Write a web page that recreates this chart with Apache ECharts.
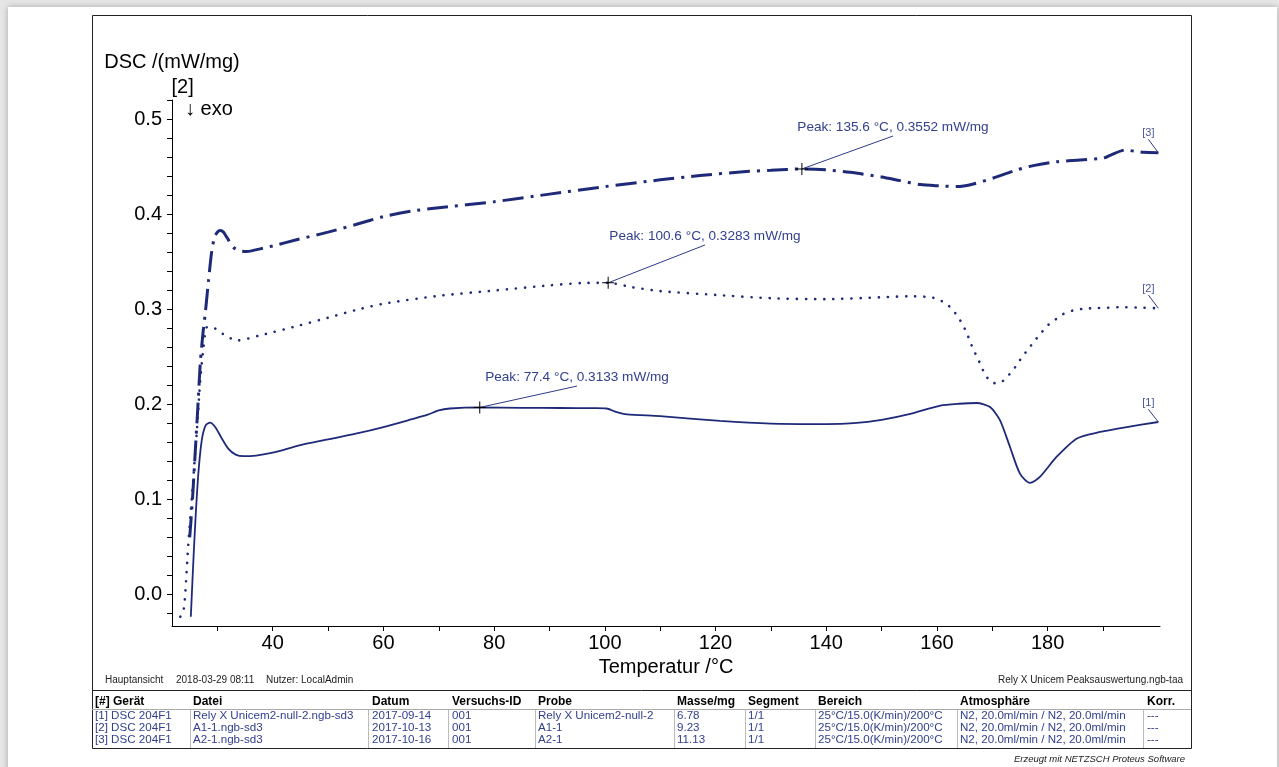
<!DOCTYPE html>
<html>
<head>
<meta charset="utf-8">
<title>DSC Peaksauswertung</title>
<script src="https://cdn.jsdelivr.net/npm/echarts@6/dist/echarts.min.js"></script>
<style>
  html, body { margin: 0; padding: 0; width: 1279px; height: 767px; overflow: hidden; background: #e6e6e6; }
  .page { position: absolute; left: 8px; top: 7px; width: 1269px; height: 770px; background: #fff; box-shadow: 0 0 6px rgba(0, 0, 0, 0.28); }
  #chart { position: absolute; left: 0; top: 0; width: 1279px; height: 767px; }
</style>
</head>
<body>
<div class="page"></div>
<div id="chart"></div>
<script>
// [T /°C, DSC in plot units]
const curve1 = [
  [25.2, -0.0235], [25.7, 0.04], [26.1, 0.085], [26.6, 0.13], [27.2, 0.163], [27.9, 0.178],
  [28.7, 0.1807], [29.6, 0.176], [30.7, 0.165], [32, 0.153], [33.3, 0.147], [34.7, 0.1453],
  [37, 0.146], [40, 0.149], [45, 0.157], [50, 0.163], [55, 0.169], [60, 0.176], [65, 0.184],
  [68, 0.189], [70, 0.1936], [72, 0.1955], [77.4, 0.1966], [85, 0.1962], [92, 0.196],
  [98, 0.1958], [100.3, 0.1955], [102, 0.192], [104, 0.1894], [110, 0.1875], [120.8, 0.1824],
  [130, 0.1795], [140, 0.179], [145, 0.18], [150, 0.1835], [155, 0.1895], [160.6, 0.1985],
  [164, 0.2005], [167.2, 0.2013], [169.6, 0.197], [171.4, 0.183], [173.2, 0.155], [175, 0.127],
  [176.8, 0.1172], [178.6, 0.1235], [181.6, 0.1445], [185.3, 0.164], [189.5, 0.1708],
  [194.3, 0.176], [200, 0.1813]
];
const curve2 = [
  [23.3, -0.0235], [23.85, -0.018], [24.2, 0.001], [24.75, 0.0536], [25.4, 0.1025],
  [26.3, 0.1726], [26.9, 0.225], [27.5, 0.26], [28.1, 0.281], [29, 0.281], [31, 0.274],
  [33.5, 0.267], [37.7, 0.2724], [44.9, 0.283], [50, 0.291], [55, 0.299], [60, 0.3057],
  [70, 0.314], [80, 0.3196], [90, 0.325], [96, 0.3275], [100.6, 0.3277], [105, 0.323],
  [110, 0.319], [120, 0.315], [130, 0.3115], [140, 0.3105], [150, 0.3125], [155, 0.3135],
  [158, 0.313], [160, 0.311], [161.5, 0.3063], [162.7, 0.3004], [163.6, 0.2934],
  [164.5, 0.2853], [165.3, 0.276], [166, 0.266], [166.6, 0.2573], [167.4, 0.248], [168, 0.24],
  [168.8, 0.2303], [170, 0.2227], [171.3, 0.222], [172.5, 0.228], [173.6, 0.2346],
  [174.6, 0.243], [175.6, 0.2514], [176.6, 0.2587], [177.7, 0.267], [178.8, 0.2748],
  [180, 0.2829], [181.2, 0.288], [182.5, 0.294], [183.6, 0.2965], [184.8, 0.299],
  [186.6, 0.3004], [188.6, 0.301], [190.4, 0.3014], [193, 0.302], [196.4, 0.3017], [200, 0.3009]
];
const curve3 = [
  [25.0, 0.06], [25.5, 0.1], [26.0, 0.15], [26.5, 0.2], [26.9, 0.2426], [27.4, 0.275],
  [27.8, 0.295], [28.4, 0.33], [29, 0.3617], [29.6, 0.3774], [30.5, 0.3827], [31.1, 0.381],
  [31.7, 0.3756], [32.9, 0.365], [34, 0.3615], [35.3, 0.3606], [37.7, 0.3634], [40, 0.3665],
  [44.3, 0.373], [50, 0.381], [55, 0.389], [60, 0.3973], [65, 0.403], [70, 0.4067],
  [80, 0.413], [90, 0.421], [100, 0.4289], [110, 0.436], [117.2, 0.4405], [125, 0.4445],
  [130, 0.446], [135.6, 0.4475], [140, 0.4465], [144.3, 0.444], [150, 0.439], [153.3, 0.4352],
  [157, 0.431], [160.6, 0.4297], [163.6, 0.4289], [166.6, 0.4317], [170.2, 0.438],
  [174.4, 0.4464], [177.4, 0.451], [181.6, 0.4551], [185.9, 0.4569], [190.1, 0.459],
  [191.3, 0.4618], [194, 0.4674], [195.8, 0.466], [197.3, 0.465], [200, 0.4645]
];

const curveNames = ['[1]', '[2]', '[3]'];
const curveLabelAt = [[198.2, 0.1946], [198.2, 0.3149], [198.2, 0.4786]];

// peak evaluations: temperature, value printed, position on plot, leader end
const peakTemps = [77.4, 100.6, 135.6];
const peakValues = [0.3133, 0.3283, 0.3552];
const peakPlotY = [0.1966, 0.3277, 0.4475];
const peakLabelAt = [[94.98, 0.2191], [118.1, 0.3675], [152.06, 0.4821]];

const xLabels = [40, 60, 80, 100, 120, 140, 160, 180];
const xTicks = [30, 40, 50, 60, 70, 80, 90, 100, 110, 120, 130, 140, 150, 160, 170, 180, 190];
const yLabels = [0, 0.1, 0.2, 0.3, 0.4, 0.5];
const yTicks = [-0.02, 0, 0.02, 0.04, 0.06, 0.08, 0.1, 0.12, 0.14, 0.16, 0.18, 0.2, 0.22, 0.24,
  0.26, 0.28, 0.3, 0.32, 0.34, 0.36, 0.38, 0.4, 0.42, 0.44, 0.46, 0.48, 0.5, 0.52];

const tableHeader = ['[#] Gerät', 'Datei', 'Datum', 'Versuchs-ID', 'Probe', 'Masse/mg', 'Segment', 'Bereich', 'Atmosphäre', 'Korr.'];
const tableRows = [
  ['[1] DSC 204F1', 'Rely X Unicem2-null-2.ngb-sd3', '2017-09-14', '001', 'Rely X Unicem2-null-2', '6.78', '1/1', '25°C/15.0(K/min)/200°C', 'N2, 20.0ml/min / N2, 20.0ml/min', '---'],
  ['[2] DSC 204F1', 'A1-1.ngb-sd3', '2017-10-13', '001', 'A1-1', '9.23', '1/1', '25°C/15.0(K/min)/200°C', 'N2, 20.0ml/min / N2, 20.0ml/min', '---'],
  ['[3] DSC 204F1', 'A2-1.ngb-sd3', '2017-10-16', '001', 'A2-1', '11.13', '1/1', '25°C/15.0(K/min)/200°C', 'N2, 20.0ml/min / N2, 20.0ml/min', '---']
];

const FONT = '"Liberation Sans", Arial, sans-serif';
const NAVY = '#1e2a78';
const BLUE = '#33408f';
const colX = [95, 193, 372, 452, 538, 677, 748, 818, 960, 1147];
const colSep = [190, 368, 448, 535, 674, 745, 815, 957, 1143];
const rowY = [716, 728, 740];

const crossPath = 'path://M5.5,0H6.5V12H5.5Z M0,5.5H12V6.5H0Z';

function txt(x, y, text, opt) {
  opt = opt || {};
  return {
    type: 'text', x: x, y: y, silent: true,
    style: {
      text: text, fill: opt.color || '#000',
      font: (opt.style || '') + ' ' + (opt.weight || '') + ' ' + (opt.size || 11) + 'px ' + FONT,
      align: opt.align || 'left', textAlign: opt.align || 'left',
      verticalAlign: 'middle', textVerticalAlign: 'middle'
    }
  };
}
function hline(x1, x2, y, color) {
  return { type: 'line', silent: true, shape: { x1: x1, y1: y, x2: x2, y2: y }, style: { stroke: color, lineWidth: 1 } };
}
function vline(x, y1, y2, color) {
  return { type: 'line', silent: true, shape: { x1: x, y1: y1, x2: x, y2: y2 }, style: { stroke: color, lineWidth: 1 } };
}

const graphics = [
  { type: 'rect', silent: true, shape: { x: 92.5, y: 15.5, width: 1099, height: 733 }, style: { fill: 'none', stroke: '#222', lineWidth: 1 } },
  hline(92, 1191, 690.5, '#222'),
  hline(92, 1191, 709.5, '#aaa'),
  txt(171.5, 87, '[2]', { size: 20 }),
  txt(185, 109, '↓ exo', { size: 20 }),
  txt(105, 680, 'Hauptansicht', { size: 10, color: '#222' }),
  txt(176, 680, '2018-03-29 08:11', { size: 10, color: '#222' }),
  txt(266, 680, 'Nutzer: LocalAdmin', { size: 10, color: '#222' }),
  txt(1183, 680, 'Rely X Unicem Peaksauswertung.ngb-taa', { size: 10, color: '#222', align: 'right' }),
  txt(1185, 759, 'Erzeugt mit NETZSCH Proteus Software', { size: 9.5, color: '#222', align: 'right', style: 'italic' })
];
colSep.forEach(function (x) { graphics.push(vline(x + 0.5, 710, 748, '#bbb')); });
tableHeader.forEach(function (h, i) { graphics.push(txt(colX[i], 702, h, { weight: 'bold', size: 12 })); });
tableRows.forEach(function (row, r) {
  row.forEach(function (cell, i) { graphics.push(txt(colX[i], rowY[r], cell, { size: 11.6, color: BLUE })); });
});

function markings(idx) {
  const last = [curve1, curve2, curve3][idx];
  const end = last[last.length - 1];
  const lines = [[{ coord: end }, { coord: curveLabelAt[idx] }]];
  const points = [{
    coord: curveLabelAt[idx], symbol: 'circle', symbolSize: 0,
    label: { show: true, position: 'top', distance: 1, formatter: curveNames[idx], color: '#4a5596', fontSize: 11, fontFamily: FONT }
  }];
  const peak = [peakTemps[idx], peakPlotY[idx]];
  lines.push([{ coord: peak }, { coord: peakLabelAt[idx] }]);
  points.push({ coord: peak, symbol: crossPath, symbolSize: 12, itemStyle: { color: '#000' }, label: { show: false } });
  points.push({
    coord: peakLabelAt[idx], symbol: 'circle', symbolSize: 0,
    label: {
      show: true, position: 'top', distance: 2, color: BLUE, fontSize: 13.6, fontFamily: FONT,
      formatter: 'Peak: ' + peakTemps[idx].toFixed(1) + ' °C, ' + peakValues[idx].toFixed(4) + ' mW/mg'
    }
  });
  return {
    markLine: { silent: true, symbol: ['none', 'none'], animation: false, label: { show: false },
      lineStyle: { color: '#2e3a88', width: 1, type: 'solid' }, data: lines },
    markPoint: { silent: true, animation: false, data: points }
  };
}

const styles = [
  { color: NAVY, width: 1.8, type: 'solid' },
  { color: NAVY, width: 2.6, type: [0.1, 9], cap: 'round' },
  { color: NAVY, width: 3, type: [21, 7, 3, 7] }
];

const series = [curve1, curve2, curve3].map(function (data, i) {
  const m = markings(i);
  return {
    name: curveNames[i], type: 'line', data: data, showSymbol: false,
    smooth: 0.25, lineStyle: styles[i],
    markLine: m.markLine, markPoint: m.markPoint
  };
});

const chart = echarts.init(document.getElementById('chart'));
chart.setOption({
  animation: false,
  textStyle: { fontFamily: FONT },
  grid: { left: 172, right: 119, top: 100, bottom: 141, containLabel: false },
  xAxis: {
    type: 'value', min: 21.8, max: 200.3,
    name: 'Temperatur /°C', nameLocation: 'middle', nameGap: 26,
    nameTextStyle: { fontSize: 20, color: '#000', fontFamily: FONT },
    axisLine: { show: true, onZero: false, lineStyle: { color: '#000', width: 1 } },
    axisTick: { show: true, length: 5, customValues: xTicks, lineStyle: { color: '#000' } },
    axisLabel: { customValues: xLabels, fontSize: 20, color: '#000', margin: 7, fontFamily: FONT },
    splitLine: { show: false }
  },
  yAxis: {
    type: 'value', min: -0.0333, max: 0.52,
    name: 'DSC /(mW/mg)', nameLocation: 'end', nameGap: 28,
    nameTextStyle: { fontSize: 20, color: '#000', align: 'center', fontFamily: FONT },
    axisLine: { show: true, onZero: false, lineStyle: { color: '#000', width: 1 } },
    axisTick: { show: true, length: 5, customValues: yTicks, lineStyle: { color: '#000' } },
    axisLabel: {
      customValues: yLabels, fontSize: 20, color: '#000', margin: 10, fontFamily: FONT,
      formatter: function (v) { return v.toFixed(1); }
    },
    splitLine: { show: false }
  },
  graphic: graphics,
  series: series
});
</script>
</body>
</html>
